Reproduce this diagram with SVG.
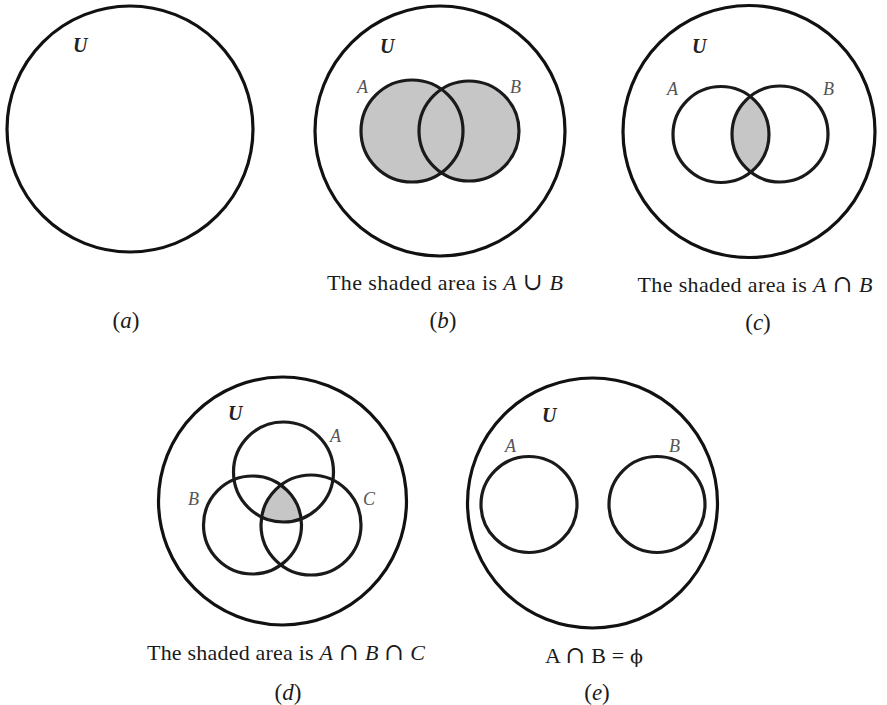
<svg xmlns="http://www.w3.org/2000/svg" width="887" height="705" viewBox="0 0 887 705">
<style>
.u{fill:none;stroke:#111;stroke-width:3.2}
.s{fill:none;stroke:#1a1a1a;stroke-width:3.2}
.sh{fill:#c6c6c6}
.lab{font-family:"Liberation Serif","DejaVu Serif",serif;font-style:italic;font-size:18px;fill:#555}
.ul{font-family:"Liberation Serif","DejaVu Serif",serif;font-style:italic;font-weight:bold;font-size:20px;fill:#222}
.cap{font-family:"Liberation Serif","DejaVu Serif",serif;font-size:22px;fill:#1a1a1a;text-anchor:middle}
.pl{font-family:"Liberation Serif","DejaVu Serif",serif;font-size:23px;fill:#1a1a1a;text-anchor:middle}
.it{font-style:italic}
.sym{font-family:"DejaVu Serif",serif;font-size:24px}
.phi{font-family:"DejaVu Serif",serif;font-size:19px}
</style>
<defs>
<clipPath id="cA_c"><circle cx="721" cy="134.5" r="48"/></clipPath>
<clipPath id="cA_d"><circle cx="283.5" cy="472" r="50"/></clipPath>
<clipPath id="cB_d"><circle cx="252.5" cy="525" r="49"/></clipPath>
</defs>
<rect width="887" height="705" fill="#fff"/>

<g id="panel-a">
<circle class="u" cx="130" cy="129" r="123"/>
<text class="ul" x="73" y="52">U</text>
<text class="pl" x="126" y="328">(<tspan class="it">a</tspan>)</text>
</g>

<g id="panel-b">
<circle class="u" cx="440" cy="131" r="125"/>
<circle class="sh" cx="412" cy="131" r="51"/>
<circle class="sh" cx="469" cy="131" r="50"/>
<circle class="s" cx="412" cy="131" r="51"/>
<circle class="s" cx="469" cy="131" r="50"/>
<text class="ul" x="380" y="53">U</text>
<text class="lab" x="357" y="93">A</text>
<text class="lab" x="510" y="93">B</text>
<text class="cap" x="445" y="290" textLength="236" lengthAdjust="spacing">The shaded area is <tspan class="it">A</tspan> <tspan class="sym">∪</tspan> <tspan class="it">B</tspan></text>
<text class="pl" x="443" y="328">(<tspan class="it">b</tspan>)</text>
</g>

<g id="panel-c">
<circle class="u" cx="749" cy="131.5" r="126"/>
<circle class="sh" cx="780" cy="134" r="48" clip-path="url(#cA_c)"/>
<circle class="s" cx="721" cy="134.5" r="48"/>
<circle class="s" cx="780" cy="134" r="48"/>
<text class="ul" x="692" y="53">U</text>
<text class="lab" x="667" y="95">A</text>
<text class="lab" x="823" y="95">B</text>
<text class="cap" x="755" y="292" textLength="235" lengthAdjust="spacing">The shaded area is <tspan class="it">A</tspan> <tspan class="sym">∩</tspan> <tspan class="it">B</tspan></text>
<text class="pl" x="758" y="330">(<tspan class="it">c</tspan>)</text>
</g>

<g id="panel-d">
<circle class="u" cx="282.5" cy="501" r="124"/>
<g clip-path="url(#cB_d)"><circle class="sh" cx="311" cy="525" r="50" clip-path="url(#cA_d)"/></g>
<circle class="s" cx="283.5" cy="472" r="50"/>
<circle class="s" cx="252.5" cy="525" r="49"/>
<circle class="s" cx="311" cy="525" r="50"/>
<text class="ul" x="228" y="420">U</text>
<text class="lab" x="330" y="442">A</text>
<text class="lab" x="188" y="505">B</text>
<text class="lab" x="363" y="505">C</text>
<text class="cap" x="286" y="660" textLength="278" lengthAdjust="spacing">The shaded area is <tspan class="it">A</tspan> <tspan class="sym">∩</tspan> <tspan class="it">B</tspan> <tspan class="sym">∩</tspan> <tspan class="it">C</tspan></text>
<text class="pl" x="288" y="700">(<tspan class="it">d</tspan>)</text>
</g>

<g id="panel-e">
<circle class="u" cx="592.5" cy="503" r="125"/>
<circle class="s" cx="529" cy="504.5" r="48"/>
<circle class="s" cx="657" cy="504.5" r="48"/>
<text class="ul" x="542" y="422">U</text>
<text class="lab" x="505" y="452">A</text>
<text class="lab" x="669" y="452">B</text>
<text class="cap" x="594" y="663" textLength="98" lengthAdjust="spacing">A <tspan class="sym">∩</tspan> B = <tspan class="phi">ϕ</tspan></text>
<text class="pl" x="597" y="700">(<tspan class="it">e</tspan>)</text>
</g>
</svg>
